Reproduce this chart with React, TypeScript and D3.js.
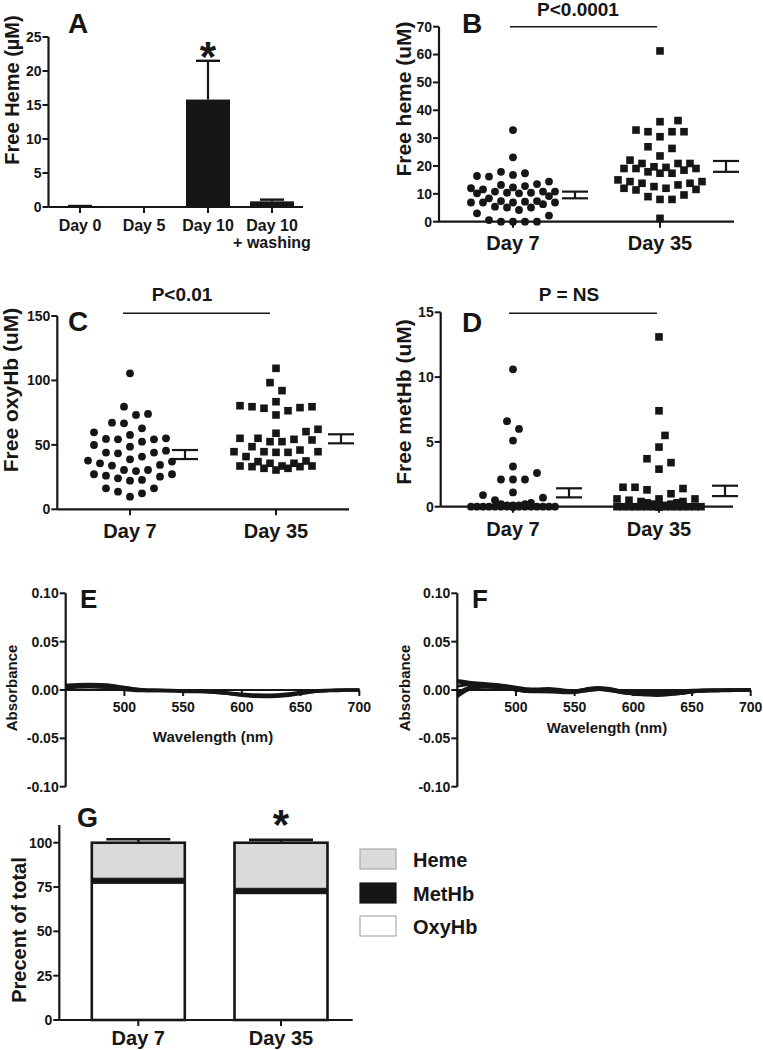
import React from 'react';
import * as d3 from 'd3';

const FONT = '"Liberation Sans", Arial, Helvetica, sans-serif';
const INK = '#161616';
const HEME_FILL = '#d9dadb';

// ---------- Panel A ----------
const aCategories = ['Day 0', 'Day 5', 'Day 10', 'Day 10'];
const aSubLabels = ['', '', '', '+ washing'];
const aMeans = [0.12, 0, 15.8, 0.83];
const aErrors = [0.03, 0, 5.7, 0.25];
const aSignificant = [false, false, true, false];
const aTicks = [0, 5, 10, 15, 20, 25];

// ---------- Panels B–D ----------
const days = ['Day 7', 'Day 35'];

const bDay7 = [32.9, 23.1, 17.9, 16.8, 16.2, 16.4, 17.4, 14.4, 13.2, 12.3, 11.6, 12.0, 12.8, 13.5, 10.8, 10.4, 10.2, 10.8, 10.2, 10.4, 10.8, 8.4, 9.2, 6.9, 6.3, 7.2, 6.9, 7.4, 7.4, 6.9, 6.9, 5.1, 5.1, 4.2, 5.4, 3.0, 2.2, 0.6, 0, 0, 0, 0];
const bDay35 = [61.3, 35.9, 36.3, 32.3, 32.3, 32.3, 32.9, 30.5, 26.3, 26.9, 22.1, 23.6, 20.9, 20.9, 20.9, 19.1, 18.5, 19.1, 19.7, 19.1, 19.5, 15.0, 17.4, 17.9, 17.4, 13.8, 13.2, 14.4, 13.8, 12.6, 14.4, 11.6, 12.0, 11.4, 12.0, 9.6, 8.0, 8.0, 9.0, 1.2];
const bMeanSem = [[9.6, 1.2], [19.85, 1.95]];
const bTicks = [0, 10, 20, 30, 40, 50, 60, 70];

const cDay7 = [105.5, 79.6, 73.2, 74.0, 66.7, 67.2, 62.8, 59.7, 55.1, 54.6, 52.5, 54.3, 54.3, 57.7, 49.9, 48.6, 45.5, 44.0, 43.4, 44.0, 40.9, 37.8, 35.7, 34.4, 33.9, 37.0, 38.8, 30.5, 29.7, 30.5, 27.2, 25.3, 22.8, 22.2, 24.0, 26.1, 27.2, 16.3, 13.7, 9.8, 12.4, 16.3];
const cDay35 = [109.4, 98.3, 92.1, 83.5, 80.4, 79.6, 78.4, 73.2, 76.5, 78.9, 79.6, 60.3, 59.0, 62.1, 55.1, 52.5, 54.3, 55.1, 52.5, 53.8, 48.6, 44.7, 44.2, 44.2, 44.7, 44.7, 46.0, 40.9, 37.5, 37.0, 33.6, 33.1, 31.8, 30.5, 33.6, 31.8, 33.6, 35.7, 35.7, 33.1];
const cMeanSem = [[42.5, 3.5], [54.7, 3.5]];
const cTicks = [0, 50, 100, 150];

const dDay7 = [10.6, 6.6, 6.0, 5.1, 3.1, 2.6, 2.1, 2.1, 2.1, 1.1, 0.9, 0.7, 0.5, 0.3, 0.2, 0.2, 0.1, 0.1, 0.1, 0, 0, 0, 0, 0, 0, 0, 0, 0, 0, 0, 0, 0, 0, 0, 0, 0, 0, 0, 0, 0];
const dDay35 = [13.1, 7.4, 5.5, 4.6, 3.7, 3.4, 2.9, 1.5, 1.3, 1.4, 1.5, 1.0, 0.6, 0.5, 0.6, 0.6, 0.4, 0.4, 0.3, 0.3, 0.2, 0.2, 0.1, 0.1, 0, 0, 0, 0, 0, 0, 0, 0, 0, 0, 0, 0, 0, 0, 0, 0, 0, 0];
const dMeanSem = [[1.07, 0.35], [1.22, 0.4]];
const dTicks = [0, 5, 10, 15];

// ---------- Panels E–F (spectra, absorbance) ----------
const wavelengths = [450, 460, 470, 480, 490, 500, 510, 520, 530, 540, 550, 560, 570, 580, 590, 600, 610, 620, 630, 640, 650, 660, 670, 680, 690, 700];
const eSpectra = [
  [0.004, 0.005, 0.005, 0.005, 0.004, 0.002, 0.001, 0, 0, 0, -0.001, -0.001, -0.001, -0.002, -0.003, -0.004, -0.005, -0.005, -0.005, -0.004, -0.002, -0.001, 0, 0, 0, 0],
  [0.003, 0.004, 0.004, 0.003, 0.002, 0, -0.001, -0.001, -0.001, -0.001, -0.001, -0.001, -0.002, -0.003, -0.004, -0.006, -0.007, -0.007, -0.007, -0.006, -0.004, -0.002, -0.001, 0, 0, 0],
  [0.005, 0.006, 0.006, 0.006, 0.005, 0.003, 0.001, 0, 0, -0.001, -0.001, -0.001, -0.001, -0.002, -0.003, -0.005, -0.006, -0.006, -0.006, -0.005, -0.003, -0.001, -0.001, 0, 0, 0],
  [0.002, 0.003, 0.003, 0.003, 0.002, 0.001, 0, -0.001, -0.001, -0.001, -0.002, -0.002, -0.002, -0.003, -0.004, -0.005, -0.006, -0.007, -0.006, -0.005, -0.003, -0.002, -0.001, -0.001, 0, 0],
];
const fSpectra = [
  [0.010, 0.008, 0.007, 0.006, 0.005, 0.003, 0.001, 0.001, 0.002, 0, -0.001, 0.001, 0.003, 0.002, -0.001, -0.002, -0.002, -0.002, -0.002, -0.001, 0, 0, 0, 0, 0, 0],
  [-0.007, 0.002, 0.003, 0.003, 0.002, 0, -0.002, -0.001, -0.001, -0.002, -0.003, -0.001, 0.001, 0, -0.003, -0.004, -0.004, -0.004, -0.004, -0.003, -0.002, -0.001, -0.001, 0, 0, 0],
  [0.004, 0.006, 0.006, 0.005, 0.004, 0.002, 0, 0, 0, -0.001, -0.002, 0.002, 0.003, 0.001, -0.002, -0.003, -0.003, -0.003, -0.003, -0.002, -0.001, 0, 0, 0, 0, 0],
  [-0.003, 0.004, 0.004, 0.004, 0.003, 0.001, -0.001, -0.001, -0.001, -0.002, -0.002, 0, 0.002, 0, -0.002, -0.005, -0.005, -0.006, -0.005, -0.004, -0.002, -0.001, -0.001, -0.001, 0, 0],
  [0.008, 0.007, 0.006, 0.005, 0.004, 0.002, 0, 0, 0.001, -0.001, -0.002, 0.001, 0.002, 0.001, -0.002, -0.003, -0.004, -0.004, -0.003, -0.003, -0.001, 0, 0, 0, 0, 0],
  [-0.005, 0.003, 0.003, 0.003, 0.002, 0, -0.002, -0.002, -0.002, -0.003, -0.003, -0.001, 0.001, -0.001, -0.003, -0.004, -0.005, -0.005, -0.005, -0.004, -0.002, -0.001, -0.001, 0, 0, 0],
];
const absTicks = [-0.1, -0.05, 0, 0.05, 0.1];
const wlTicks = [500, 550, 600, 650, 700];

// ---------- Panel G ----------
const gKeys = ['OxyHb', 'MetHb', 'Heme'];
const gOxyHb = [77.2, 71.3];
const gMetHb = [2.8, 3.0];
const gHeme = [20.0, 25.7];
const gErrors = [2.0, 1.6];
const gSignificant = [false, true];
const gTicks = [0, 25, 50, 75, 100];
const gLegend = ['Heme', 'MetHb', 'OxyHb'];

// ---------- helpers ----------
function swarm(values: number[], y: (v: number) => number, step: number, dist: number, maxK: number) {
  const order = values.map((_, i) => i).sort((a, b) => values[a] - values[b]);
  const cands: number[] = [0];
  for (let k = 1; k <= maxK; k++) { cands.push(k); cands.push(-k); }
  const placed: { x: number; y: number }[] = [];
  const out: number[] = new Array(values.length).fill(0);
  for (const idx of order) {
    const py = y(values[idx]);
    let best = 0;
    let bestD = -1;
    for (const k of cands) {
      const px = k * step;
      let md = Infinity;
      for (const p of placed) {
        const d = Math.hypot(p.x - px, p.y - py);
        if (d < md) md = d;
      }
      if (md >= dist) { best = px; bestD = md; break; }
      if (md > bestD) { bestD = md; best = px; }
    }
    placed.push({ x: best, y: py });
    out[idx] = best;
  }
  return out;
}

const txt = (extra: any = {}) => ({ fontFamily: FONT, fontWeight: 700, fill: INK, ...extra });

function YAxis({ scale, x, ticks, fmt, fontSize = 14, top }: any) {
  const [r0, r1] = scale.range();
  return (
    <g>
      <line x1={x} x2={x} y1={top ?? Math.min(r0, r1)} y2={Math.max(r0, r1)} stroke={INK} strokeWidth={2.2} />
      {ticks.map((t: number) => (
        <g key={t}>
          <line x1={x - 6} x2={x} y1={scale(t)} y2={scale(t)} stroke={INK} strokeWidth={2} />
          <text x={x - 7} y={scale(t)} dy="0.35em" textAnchor="end" {...txt({ fontSize })}>{fmt ? fmt(t) : t}</text>
        </g>
      ))}
    </g>
  );
}

function ScatterPanel({ letter, axisX, axisRight, yRange, domainMax, ticks, centers, groups, meanSem, pText, pX, pLineY, pLine, title, titleX, titleY, labelBase, letterPos, meanOffsets }: any) {
  const y = d3.scaleLinear().domain([0, domainMax]).range(yRange);
  const x = d3.scalePoint().domain(days).range(centers);
  return (
    <g>
      <YAxis scale={y} x={axisX} ticks={ticks} />
      <line x1={axisX} x2={axisRight} y1={y(0)} y2={y(0)} stroke={INK} strokeWidth={2.2} />
      {days.map((d) => (
        <g key={d}>
          <line x1={x(d)} x2={x(d)} y1={y(0)} y2={y(0) + 6} stroke={INK} strokeWidth={2} />
          <text x={x(d)} y={labelBase} textAnchor="middle" {...txt({ fontSize: 20 })}>{d}</text>
        </g>
      ))}
      {groups.map((vals: number[], gi: number) => {
        const offs = swarm(vals, y, 6, 12, 7);
        const cx0 = x(days[gi]) as number;
        return (
          <g key={gi}>
            {vals.map((v, i) =>
              gi === 0 ? (
                <circle key={i} cx={cx0 + offs[i]} cy={y(v)} r={3.9} fill={INK} />
              ) : (
                <rect key={i} x={cx0 + offs[i] - 3.8} y={y(v) - 3.8} width={7.6} height={7.6} fill={INK} />
              )
            )}
          </g>
        );
      })}
      {meanSem.map(([m, s]: number[], gi: number) => {
        const cx = (x(days[gi]) as number) + meanOffsets[gi];
        return (
          <g key={'ms' + gi} stroke={INK} strokeWidth={2.2}>
            <line x1={cx - 13} x2={cx + 13} y1={y(m + s)} y2={y(m + s)} />
            <line x1={cx - 13} x2={cx + 13} y1={y(m - s)} y2={y(m - s)} />
            <line x1={cx} x2={cx} y1={y(m + s)} y2={y(m - s)} />
          </g>
        );
      })}
      <text x={pX} y={Math.max(pLineY - 12, 16)} textAnchor="middle" {...txt({ fontSize: 19 })}>{pText}</text>
      <line x1={pLine[0]} x2={pLine[1]} y1={pLineY} y2={pLineY} stroke={INK} strokeWidth={1.5} />
      <text x={letterPos[0]} y={letterPos[1]} {...txt({ fontSize: 28 })}>{letter}</text>
      <text transform={`translate(${titleX},${titleY}) rotate(-90)`} textAnchor="middle" {...txt({ fontSize: 21 })}>{title}</text>
    </g>
  );
}

function SpectraPanel({ letter, xRange, spectra, absX, wlPos, letterX }: any) {
  const x = d3.scaleLinear().domain([450, 700]).range(xRange);
  const y = d3.scaleLinear().domain([-0.1, 0.1]).range([786.7, 593.3]);
  const line = d3.line<number>().x((_, i) => x(wavelengths[i])).y((v) => y(v)).curve(d3.curveBasis);
  return (
    <g>
      <YAxis scale={y} x={xRange[0]} ticks={absTicks} fmt={(t: number) => d3.format('.2f')(t).replace('−', '-')} />
      <line x1={xRange[0]} x2={xRange[1]} y1={y(0)} y2={y(0)} stroke={INK} strokeWidth={2.2} />
      {spectra.map((s: number[], i: number) => (
        <path key={i} d={line(s) as string} fill="none" stroke={INK} strokeWidth={2.8} />
      ))}
      {wlTicks.map((t) => (
        <g key={t}>
          <line x1={x(t)} x2={x(t)} y1={y(0)} y2={y(0) + 6} stroke={INK} strokeWidth={2} />
          <text x={x(t)} y={712} textAnchor="middle" {...txt({ fontSize: 14 })}>{t}</text>
        </g>
      ))}
      <text x={wlPos[0]} y={wlPos[1]} textAnchor="middle" {...txt({ fontSize: 15 })}>Wavelength (nm)</text>
      <text transform={`translate(${absX},688) rotate(-90)`} textAnchor="middle" {...txt({ fontSize: 15 })}>Absorbance</text>
      <text x={letterX} y={608} {...txt({ fontSize: 26 })}>{letter}</text>
    </g>
  );
}

export default function App() {
  // Panel A scales
  const yA = d3.scaleLinear().domain([0, 25]).range([207, 37]);
  const xA = d3.scalePoint<number>().domain(aCategories.map((_, i) => i)).range([80, 272]);
  const aBarW = 44;

  // Panel G scales
  const yG = d3.scaleLinear().domain([0, 110]).range([1020, 825]);
  const xG = d3.scalePoint().domain(days).range([138.3, 281]);
  const gRows = days.map((d, i) => ({ day: d, OxyHb: gOxyHb[i], MetHb: gMetHb[i], Heme: gHeme[i] }));
  const stack = d3.stack<any>().keys(gKeys)(gRows);
  const gFill: Record<string, string> = { OxyHb: '#ffffff', MetHb: INK, Heme: HEME_FILL };
  const gBarW = 93;

  return (
    <svg width={763} height={1050} style={{ position: 'absolute', left: 0, top: 0, background: '#fff' }}>
      <rect width={763} height={1050} fill="#fff" />

      {/* ---------- Panel A ---------- */}
      <g>
        <YAxis scale={yA} x={48.5} ticks={aTicks} />
        <line x1={48.5} x2={303} y1={yA(0)} y2={yA(0)} stroke={INK} strokeWidth={2.2} />
        {aCategories.map((c, i) => {
          const cx = xA(i) as number;
          const top = yA(aMeans[i]);
          const errTop = yA(aMeans[i] + aErrors[i]);
          return (
            <g key={i}>
              {aMeans[i] > 0 && (
                <>
                  <line x1={cx} x2={cx} y1={top} y2={errTop} stroke={INK} strokeWidth={2.2} />
                  <line x1={cx - 12} x2={cx + 12} y1={errTop} y2={errTop} stroke={INK} strokeWidth={2.4} />
                  <rect x={cx - aBarW / 2} y={top} width={aBarW} height={yA(0) - top} fill={INK} />
                </>
              )}
              {aSignificant[i] && (
                <text x={cx} y={errTop + 10} textAnchor="middle" {...txt({ fontSize: 42 })}>*</text>
              )}
              <line x1={cx} x2={cx} y1={yA(0)} y2={yA(0) + 6} stroke={INK} strokeWidth={2} />
              <text x={cx} y={231} textAnchor="middle" {...txt({ fontSize: 16 })}>{c}</text>
              {aSubLabels[i] && (
                <text x={cx} y={248} textAnchor="middle" {...txt({ fontSize: 16 })}>{aSubLabels[i]}</text>
              )}
            </g>
          );
        })}
        <text x={68} y={33} {...txt({ fontSize: 28 })}>A</text>
        <text transform="translate(19,90) rotate(-90)" textAnchor="middle" {...txt({ fontSize: 20 })}>Free Heme (µM)</text>
      </g>

      {/* ---------- Panel B ---------- */}
      <ScatterPanel
        letter="B" axisX={439} axisRight={734} yRange={[221.7, 26.7]} domainMax={70} ticks={bTicks}
        centers={[513, 660]} groups={[bDay7, bDay35]} meanSem={bMeanSem}
        pText="P<0.0001" pX={578} pLineY={26.7} pLine={[510, 657]}
        title="Free heme (uM)" titleX={411} titleY={99} labelBase={250} letterPos={[462, 33]} meanOffsets={[62, 66]}
      />

      {/* ---------- Panel C ---------- */}
      <ScatterPanel
        letter="C" axisX={57.3} axisRight={349} yRange={[509.3, 316]} domainMax={150} ticks={cTicks}
        centers={[130, 276]} groups={[cDay7, cDay35]} meanSem={cMeanSem}
        pText="P<0.01" pX={182} pLineY={313.3} pLine={[123, 270]}
        title="Free oxyHb (uM)" titleX={18} titleY={390} labelBase={538} letterPos={[68, 331]} meanOffsets={[55, 65]}
      />

      {/* ---------- Panel D ---------- */}
      <ScatterPanel
        letter="D" axisX={440.7} axisRight={733} yRange={[506.7, 312.3]} domainMax={15} ticks={dTicks}
        centers={[513, 659]} groups={[dDay7, dDay35]} meanSem={dMeanSem}
        pText="P = NS" pX={569} pLineY={313.3} pLine={[509, 657]}
        title="Free metHb (uM)" titleX={411} titleY={402} labelBase={536} letterPos={[462, 332]} meanOffsets={[56, 66]}
      />

      {/* ---------- Panels E, F ---------- */}
      <SpectraPanel letter="E" xRange={[65.7, 359.3]} spectra={eSpectra} absX={17} wlPos={[213, 742]} letterX={80} />
      <SpectraPanel letter="F" xRange={[457.3, 750.7]} spectra={fSpectra} absX={410} wlPos={[607, 733]} letterX={472} />

      {/* ---------- Panel G ---------- */}
      <g>
        <YAxis scale={yG} x={59.3} ticks={gTicks} top={yG(110)} />
        <line x1={59.3} x2={352.7} y1={yG(0)} y2={yG(0)} stroke={INK} strokeWidth={2.2} />
        {days.map((d, i) => {
          const cx = xG(d) as number;
          const total = gOxyHb[i] + gMetHb[i] + gHeme[i];
          const errTop = yG(total + gErrors[i]);
          return (
            <g key={d}>
              <line x1={cx} x2={cx} y1={yG(total)} y2={errTop} stroke={INK} strokeWidth={2.4} />
              <line x1={cx - 32} x2={cx + 32} y1={errTop} y2={errTop} stroke={INK} strokeWidth={2.6} />
              {stack.map((layer) => (
                <rect key={layer.key} x={cx - gBarW / 2} y={yG(layer[i][1])} width={gBarW}
                  height={yG(layer[i][0]) - yG(layer[i][1])} fill={gFill[layer.key]} stroke={INK} strokeWidth={1} />
              ))}
              <rect x={cx - gBarW / 2} y={yG(total)} width={gBarW} height={yG(0) - yG(total)} fill="none" stroke={INK} strokeWidth={2.6} />
              {gSignificant[i] && (
                <text x={cx} y={839} textAnchor="middle" {...txt({ fontSize: 42 })}>*</text>
              )}
              <line x1={cx} x2={cx} y1={yG(0)} y2={yG(0) + 6} stroke={INK} strokeWidth={2} />
              <text x={cx} y={1045} textAnchor="middle" {...txt({ fontSize: 20 })}>{d}</text>
            </g>
          );
        })}
        {gLegend.map((k, i) => {
          const top = [849, 883, 916][i];
          return (
            <g key={k}>
              <rect x={360} y={top} width={36} height={20} fill={gFill[k]} stroke={k === 'MetHb' ? INK : '#aaaaaa'} strokeWidth={1.2} />
              <text x={413} y={top + 18} {...txt({ fontSize: 20 })}>{k}</text>
            </g>
          );
        })}
        <text x={77} y={827} {...txt({ fontSize: 27 })}>G</text>
        <text transform="translate(26,930) rotate(-90)" textAnchor="middle" {...txt({ fontSize: 20 })}>Precent of total</text>
      </g>
    </svg>
  );
}
